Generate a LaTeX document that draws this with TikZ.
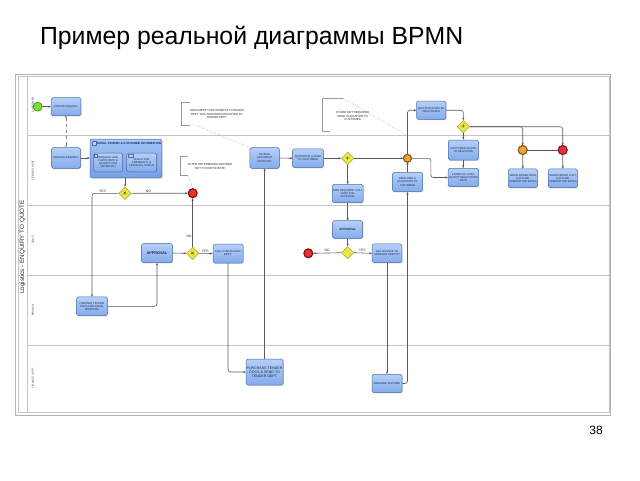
\documentclass[tikz,border=0pt]{standalone}
\usepackage{fontspec}
\setmainfont{Liberation Sans}
\usetikzlibrary{shapes.geometric,arrows.meta,shadows}
\definecolor{taskdraw}{HTML}{4A6EA8}
\definecolor{tasktop}{HTML}{B5CFF7}
\definecolor{taskbot}{HTML}{84ABEC}
\definecolor{subtop}{HTML}{A3C2F4}
\definecolor{subbot}{HTML}{76A1E8}
\definecolor{gwfill}{HTML}{E6E84A}
\definecolor{gwdraw}{HTML}{A8A228}
\definecolor{linec}{HTML}{5A5A5A}
\definecolor{lanec}{HTML}{C4C4C4}
\definecolor{txtc}{HTML}{1C2A4A}
\definecolor{startf}{HTML}{7DE02A}
\definecolor{endf}{HTML}{E23434}
\definecolor{orangef}{HTML}{F0A236}
\begin{document}
\begin{tikzpicture}[x=1pt,y=-1pt,
  tasktext/.style={font=\fontsize{2.7}{3.1}\selectfont},
  task/.style={draw=taskdraw, line width=0.5pt, rounded corners=1.6pt,
    top color=tasktop, bottom color=taskbot, text=txtc, align=center,
    inner sep=0.6pt, tasktext,
    drop shadow={shadow xshift=0.7pt,shadow yshift=-0.7pt,opacity=0.35}},
  subproc/.style={draw=taskdraw, line width=0.5pt, rounded corners=2pt,
    top color=subtop, bottom color=subbot,
    drop shadow={shadow xshift=0.8pt,shadow yshift=-0.8pt,opacity=0.35}},
  gw/.style={diamond, draw=gwdraw, fill=gwfill, line width=0.5pt,
    minimum size=12.5pt, inner sep=0pt, text=black!70,
    font=\fontsize{6}{6}\selectfont\bfseries},
  startev/.style={circle, draw=green!50!black, fill=startf, line width=0.5pt,
    minimum size=9pt, inner sep=0pt},
  endev/.style={circle, draw=red!50!black, fill=endf, line width=1pt,
    minimum size=9pt, inner sep=0pt},
  midev/.style={circle, draw=#1!60!black, fill=#1, line width=0.35pt,
    double=#1!60!black, double distance=0.5pt, minimum size=9pt, inner sep=0pt},
  flow/.style={draw=linec, line width=0.6pt, rounded corners=2.5pt,
    -{Stealth[length=2.6pt,width=2.2pt]}},
  plain/.style={draw=linec, line width=0.6pt},
  msg/.style={draw=gray, line width=0.5pt, dashed,
    {Circle[open,length=2.4pt]}-{Stealth[open,length=2.6pt,width=2.2pt]}},
  assoc/.style={draw=gray!75, line width=0.45pt, densely dotted},
  bracket/.style={draw=gray!80, line width=0.5pt},
  anntext/.style={font=\fontsize{2.9}{3.5}\selectfont, text=txtc, align=center},
  lbl/.style={font=\fontsize{3.4}{4}\selectfont, text=black!80, inner sep=0.8pt},
  lanelbl/.style={font=\fontsize{2.8}{3.2}\selectfont, text=black!70, rotate=90},
  laneline/.style={draw=lanec, line width=1pt}
]
\useasboundingbox (0,0) rectangle (640,480);

% title and page number
\node[anchor=west, font=\fontsize{24.8}{27}\selectfont, text=black] (title) at (36.5,38) {Пример реальной диаграммы BPMN};
\node[font=\fontsize{12}{14}\selectfont, text=black] (pageno) at (596,430) {38};

% frame, pool and lanes
\draw[draw=gray!60, line width=0.9pt] (15,74) rectangle (610,415);
\draw[draw=lanec, line width=0.8pt] (18,76) rectangle (609,412);
\draw[laneline] (27,76) -- (27,412);
\draw[laneline] (27,135) -- (609,135);
\draw[laneline] (27,205) -- (609,205);
\draw[laneline] (27,275) -- (609,275);
\draw[laneline] (27,345) -- (609,345);
\node[rotate=90, font=\fontsize{6.3}{7}\selectfont, text=black!85] (pool) at (22.5,247) {Logistics - ENQUIRY TO QUOTE};
\node[lanelbl] (l1) at (33,105) {CUSTOMER};
\node[lanelbl] (l2) at (33,170) {TENDER DEPT.};
\node[lanelbl] (l3) at (33,240) {ZONE};
\node[lanelbl] (l4) at (33,310) {BRANCH};
\node[lanelbl] (l5) at (33,378) {FINANCE DEPT.};

% customer lane
\node[startev] (start) at (37.7,106.7) {};
\node[task, minimum width=29.7pt, minimum height=18pt] (create) at (66,106.7) {CREATE ENQUIRY};

% tender dept lane
\node[task, minimum width=29pt, minimum height=20.6pt] (receive) at (66,158) {RECEIVE ENQUIRY};
\node[subproc, minimum width=71.7pt, minimum height=38.7pt] (sub) at (125.9,158.4) {};
\draw[draw=taskdraw, fill=tasktop, line width=0.4pt] (92.5,141.3) rectangle (96.5,145.3);
\node[font=\fontsize{2.9}{3.2}\selectfont\bfseries, text=txtc] (subtitle) at (129,143.8) {INITIAL TENDER \& CUSTOMER INFORMATION};
\node[task, minimum width=29pt, minimum height=18.7pt] (in1) at (108.2,162.4) {REQUEST AND\\PARTICIPATE \&\\QUALIFY FOR\\(INTERNAL)};
\node[task, minimum width=30pt, minimum height=18.7pt] (in2) at (141.7,162.4) {CHECK FOR\\CREDIBILITY \&\\FINANCIAL STATUS};
\draw[draw=taskdraw, fill=tasktop, line width=0.3pt] (94.5,154.5) rectangle (97.5,157.2);
\draw[draw=taskdraw, fill=tasktop, line width=0.3pt] (128.2,154.5) rectangle (133,157.2);
\node[gw] (gw1) at (125,193.3) {×};
\node[endev] (end1) at (192.7,193.2) {};
\node[task, minimum width=29.3pt, minimum height=20.6pt] (tdr) at (264.6,158) {TENDER\\DOCUMENT\\RECEIVED};
\node[task, minimum width=30.6pt, minimum height=18.7pt] (quote) at (308,158.3) {QUOTATION \& SEND\\TO CUSTOMER};
\node[gw] (gwp) at (347.7,158.3) {+};
\node[midev=orangef, minimum size=8pt] (or1) at (407.5,158.3) {};
\node[task, minimum width=30pt, minimum height=18.4pt] (dmdreq) at (347.7,193.5) {DMD REQUIRED: CALL\\ZONE FOR\\APPROVAL};
\node[task, minimum width=30pt, minimum height=19.4pt] (send) at (407.5,182) {SEND DMD \&\\QUOTATION TO\\CUSTOMER};
\node[task, minimum width=29.3pt, minimum height=18.3pt] (topq) at (431.3,110.2) {QUOTATION MAY BE\\NEGOTIATED};
\node[gw] (gw4) at (463.3,126.7) {+};
\node[task, minimum width=30pt, minimum height=20pt] (custq) at (463.3,150) {CUSTOMER QUOTE\\TO NEGOTIATE};
\node[task, minimum width=30pt, minimum height=18.4pt] (fin) at (463.3,177.5) {FINANCIAL LOSS\\ACCEPT NEGOTIATED\\RATE};
\node[midev=orangef] (or2) at (522.7,150) {};
\node[midev=endf] (red2) at (562.7,150) {};
\node[task, minimum width=29pt, minimum height=18.7pt] (won) at (522.8,178.3) {WHEN ORDER WON\\CAPTURE\\COMPETITOR RATES};
\node[task, minimum width=29pt, minimum height=18.7pt] (lost) at (562.8,178.3) {WHEN ORDER LOST\\CAPTURE\\COMPETITOR RATES};

% zone lane
\node[task, minimum width=30.6pt, minimum height=19.4pt, font=\fontsize{3.8}{4.2}\selectfont\bfseries] (appr1) at (157,253) {APPROVAL};
\node[gw] (gw2) at (192.7,253.3) {×};
\node[task, minimum width=30pt, minimum height=19pt] (call) at (228,253.5) {CALL PURCHASING\\DEPT.};
\node[endev] (end2) at (308.3,253.3) {};
\node[task, minimum width=30pt, minimum height=17.6pt, font=\fontsize{3}{3.4}\selectfont\bfseries] (appr2) at (347.7,229.5) {APPROVAL};
\node[gw] (gw3) at (347.7,252.7) {};
\node[task, minimum width=29.6pt, minimum height=18.7pt] (ask) at (387,253.3) {ASK FINANCE TO\\ARRANGE DEPOSIT};

% branch lane
\node[task, minimum width=30.6pt, minimum height=18.7pt] (prepare) at (92,306.3) {PREPARE TENDER\\DOCS FOR ZONAL\\APPROVAL};

% finance dept lane
\node[task, minimum width=37pt, minimum height=26pt, font=\fontsize{3.6}{4.2}\selectfont] (purchase) at (264.6,372) {PURCHASE TENDER\\DOCS \& SEND TO\\TENDER DEPT.};
\node[task, minimum width=30pt, minimum height=18.4pt] (arrange) at (387,383.5) {ARRANGE FOR DMD};

% annotations
\draw[bracket] (189.5,102.7) -- (181.7,102.7) -- (181.7,125.7) -- (189.5,125.7);
\node[anntext] (ann1) at (217,114.2) {DOCUMENT PURCHASED BY FINANCE\\DEPT. HAS NOW BEEN RECEIVED BY\\TENDER DEPT.};
\draw[bracket] (188,156.7) -- (180,156.7) -- (180,175) -- (188,175);
\node[anntext] (ann2) at (210,166.5) {AFTER DETERMINING DECIDED\\NOT TO PARTICIPATE};
\draw[bracket] (343.3,98.3) -- (322.7,98.3) -- (322.7,131) -- (330,131);
\node[anntext] (ann3) at (352.7,116) {IF DMD NOT REQUIRED\\SEND QUOTATION TO\\CUSTOMER};
\coordinate (a1) at (196.7,125.7);
\coordinate (a2) at (188,175);
\coordinate (a3) at (343.3,98.3);
\coordinate (a3e) at (406,135);
\draw[assoc] (a1) -- (tdr.north west);
\draw[assoc] (a2) -- (end1.north);
\draw[assoc] (a3) -- (a3e);

% connectors
\draw[flow] (start) -- (create);
\draw[msg] (create.south) -- (receive.north);
\draw[flow] (receive) -- (receive -| sub.west);
\draw[flow] (sub.south -| gw1) -- (gw1.north);
\draw[flow] (gw1.west) -| node[lbl, pos=0.3, above]{YES} (prepare.north);
\draw[flow] (gw1.east) -- node[lbl, pos=0.3, above]{NO} (end1.west);
\draw[flow] (prepare.east) -| (appr1.south);
\draw[flow] (appr1.east) -- (gw2.west);
\draw[flow] (gw2.north) -- node[lbl, pos=0.22, left]{NO} (end1.south);
\draw[flow] (gw2.east) -- node[lbl, pos=0.45, above]{YES} (call.west);
\draw[flow] (call.south) |- (purchase.west);
\draw[flow] (purchase.north) -- (tdr.south);
\draw[flow] (tdr.east) -- (quote.west);
\draw[flow] (quote.east) -- (gwp.west);
\draw[flow] (gwp.east) -- (or1.west);
\draw[flow] (gwp.south) -- (dmdreq.north);
\draw[flow] (dmdreq.south) -- (appr2.north);
\draw[flow] (appr2.south) -- (gw3.north);
\draw[flow] (gw3.west) -- node[lbl, pos=0.5, above]{NO} (end2.east);
\draw[flow] (gw3.east) -- node[lbl, pos=0.45, above]{YES} (ask.west);
\draw[flow] (ask.south) -- (arrange.north);
\draw[flow] (arrange.east) -| (send.south);
\draw[flow] (send.north) -- (or1.south);
\draw[flow] (or1.north) |- (topq.west);
\draw[flow] (or1.east) -| ([xshift=-17pt]fin.west) -- (fin.west);
\draw[flow] (topq.east) -| (gw4.north);
\draw[flow] (gw4.south) -- (custq.north);
\draw[flow] (custq.south) -- (fin.north);
\draw[flow] (gw4.east) -| (or2.north);
\draw[flow] (gw4.east) -| (red2.north);
\draw[plain] (or2.east) -- (red2.west);
\draw[flow] (or2.south) -- (won.north);
\draw[flow] (red2.south) -- (lost.north);
\end{tikzpicture}
\end{document}
